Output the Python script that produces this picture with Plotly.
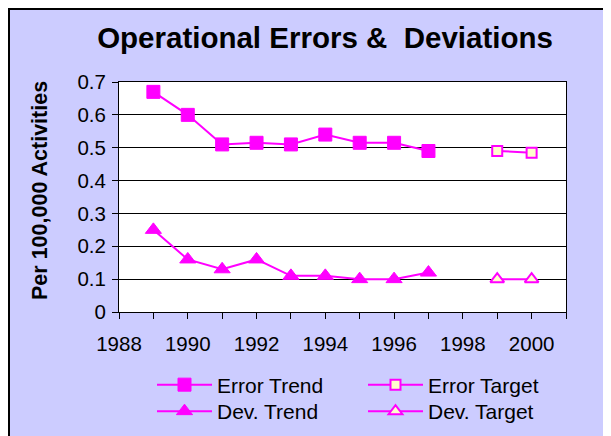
import plotly.graph_objects as go

trend_years = [1989, 1990, 1991, 1992, 1993, 1994, 1995, 1996, 1997]
error_trend = [0.67, 0.60, 0.51, 0.515, 0.51, 0.54, 0.515, 0.515, 0.49]
dev_trend = [0.25, 0.16, 0.13, 0.16, 0.11, 0.11, 0.10, 0.10, 0.12]
target_years = [1999, 2000]
error_target = [0.49, 0.485]
dev_target = [0.10, 0.10]
x_ticks = list(range(1988, 2002))
x_labels = [str(y) if y % 2 == 0 and y <= 2000 else "" for y in x_ticks]
y_ticks = [0, 0.1, 0.2, 0.3, 0.4, 0.5, 0.6, 0.7]
y_labels = ["0", "0.1", "0.2", "0.3", "0.4", "0.5", "0.6", "0.7"]

MAG = "#FF00FF"
FILL = "#FFFFCC"
FONT = "Arial, Liberation Sans, sans-serif"

fig = go.Figure()
fig.add_trace(go.Scatter(x=trend_years, y=error_trend, name="Error Trend", mode="lines+markers",
                         line=dict(color=MAG, width=2), legend="legend",
                         marker=dict(symbol="square", size=13, color=MAG, line=dict(color=MAG, width=1))))
fig.add_trace(go.Scatter(x=target_years, y=error_target, name="Error Target", mode="lines+markers",
                         line=dict(color=MAG, width=2), legend="legend",
                         marker=dict(symbol="square", size=10, color=FILL, line=dict(color=MAG, width=2))))
fig.add_trace(go.Scatter(x=trend_years, y=dev_trend, name="Dev. Trend", mode="lines+markers",
                         line=dict(color=MAG, width=2), legend="legend2",
                         marker=dict(symbol="triangle-up", size=14, color=MAG, line=dict(color=MAG, width=1))))
fig.add_trace(go.Scatter(x=target_years, y=dev_target, name="Dev. Target", mode="lines+markers",
                         line=dict(color=MAG, width=2), legend="legend2",
                         marker=dict(symbol="triangle-up", size=12, color=FILL, line=dict(color=MAG, width=2))))

W, H = 611, 436
L, T = 111, 74
R, B = W - 558, H - 304
pw, ph = W - L - R, H - T - B

def fx(p):
    return (p - L) / pw

def fy(p):
    return (H - B - p) / ph

legend_common = dict(orientation="h", xanchor="left", yanchor="top",
                     entrywidth=141, entrywidthmode="pixels", itemwidth=55,
                     bgcolor="rgba(0,0,0,0)", font=dict(size=21, family=FONT), itemsizing="trace")

fig.update_layout(
    width=W, height=H,
    margin=dict(l=L, r=R, t=T, b=B, autoexpand=False),
    paper_bgcolor="#CCCCFF", plot_bgcolor="white",
    font=dict(family=FONT, size=21, color="black"),
    title=dict(text="<b>Operational Errors &\u00a0 Deviations</b>", x=317 / W, xanchor="center",
               y=1 - 30 / H, yanchor="middle", font=dict(size=29.5, family=FONT)),
    showlegend=True,
    legend=dict(x=fx(144), y=fy(356.5), **legend_common),
    legend2=dict(x=fx(144), y=fy(383), **legend_common),
    shapes=[dict(type="rect", xref="paper", yref="paper", x0=fx(1), x1=fx(W - 1), y0=fy(H - 1), y1=fy(1),
                 line=dict(color="black", width=2), fillcolor="rgba(0,0,0,0)", layer="below")],
    annotations=[dict(text="<b>Per 100,000 Activities</b>", textangle=-90, xref="paper", yref="paper",
                      x=fx(32), y=fy(183), xanchor="center", yanchor="middle", showarrow=False,
                      font=dict(size=21.5, family=FONT))],
)
fig.update_xaxes(range=[1988, 2001], tickmode="array", tickvals=x_ticks, ticktext=x_labels,
                 ticks="outside", ticklen=6, tickcolor="black", showline=True, linecolor="black",
                 linewidth=1, mirror=True, showgrid=False, zeroline=False, ticklabelstandoff=7,
                 tickfont=dict(size=20.5, family=FONT))
fig.update_yaxes(range=[0, 0.7], tickmode="array", tickvals=y_ticks, ticktext=y_labels,
                 ticks="outside", ticklen=6, tickcolor="black", showline=True, linecolor="black",
                 linewidth=1, mirror=True, showgrid=True, gridcolor="black", gridwidth=1, zeroline=False,
                 ticklabelstandoff=2, tickfont=dict(size=20.5, family=FONT))

fig.write_html("out.html")
